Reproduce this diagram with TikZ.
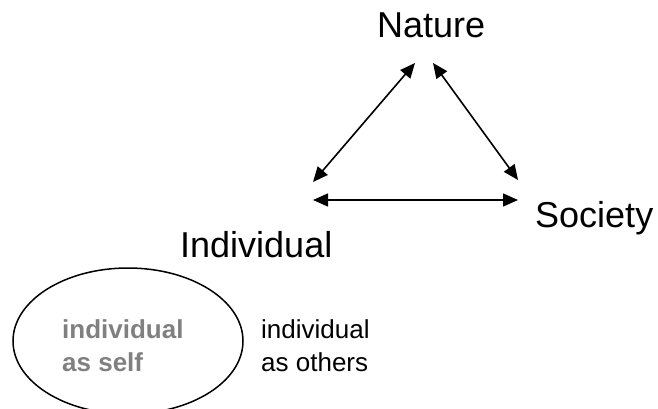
\documentclass[tikz,border=0pt]{standalone}
\usepackage{fontspec}
\setmainfont{Liberation Sans}
\usetikzlibrary{arrows.meta}
\begin{document}
\begin{tikzpicture}[x=1pt,y=-1pt,
  bigtext/.style={anchor=base west,inner sep=0pt,font=\fontsize{36}{43}\selectfont},
  smalltext/.style={anchor=north west,inner sep=0pt,align=left,font=\fontsize{26}{33}\selectfont},
  link/.style={line width=1.6pt,{Triangle[length=15pt,width=13pt]}-{Triangle[length=15pt,width=13pt]}}]
\useasboundingbox (0,0) rectangle (658,409);
\clip (0,0) rectangle (658,409);
\node[bigtext] (nature) at (377,38) {Nature};
\node[bigtext] (society) at (535,227) {Society};
\node[bigtext] (individual) at (180,257) {Individual};
\coordinate (nL) at (415,63);
\coordinate (nR) at (433,63);
\coordinate (iT) at (313,182);
\coordinate (sT) at (518,180);
\coordinate (iH) at (313,200);
\coordinate (sH) at (518,200);
\draw[link] (nL) -- (iT);
\draw[link] (nR) -- (sT);
\draw[link] (iH) -- (sH);
\draw[line width=1.5pt] (128,341) ellipse [x radius=115, y radius=73];
\node[smalltext,text=black!50,font=\fontsize{26}{33}\selectfont\bfseries] (self) at (62,319) {individual\\as self};
\node[smalltext] (others) at (261,319) {individual\\as others};
\end{tikzpicture}
\end{document}
